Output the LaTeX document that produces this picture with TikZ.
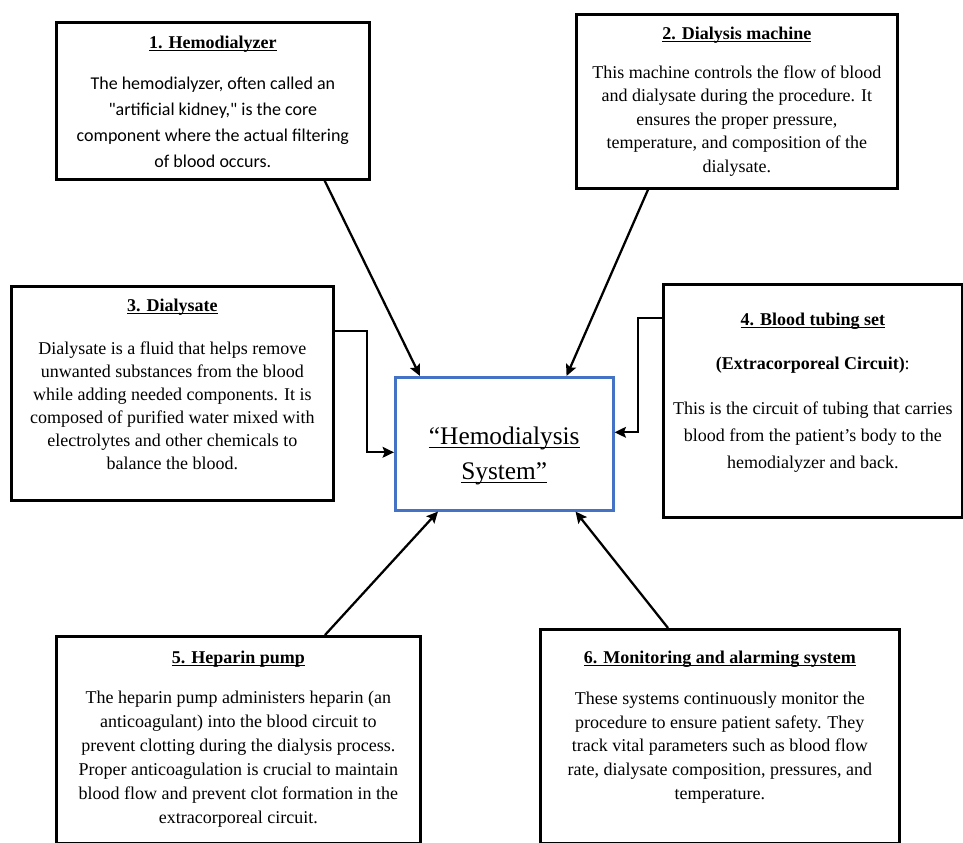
\documentclass[tikz,border=0pt]{standalone}
\usepackage{fontspec}
\setmainfont{Liberation Serif}
\newfontfamily\calibrifont{Carlito}
\usetikzlibrary{arrows.meta}

\definecolor{hubblue}{HTML}{4472C4}

% underline at a fixed depth (crosses descenders)
\newcommand{\uln}[2][2pt]{\leavevmode\setbox0\hbox{#2}\rlap{\rule[-#1]{\wd0}{0.75pt}}\box0}
% title line of a card, then the card itself (width, height, top pad, content)
\newcommand{\cardtitle}[1]{\rule{0pt}{10.5pt}\uln{\textbf{#1}}\par}
\newcommand{\card}[4]{\parbox[c][#2][t]{#1}{\centering\vspace*{#3}#4}}

\tikzset{
  infobox/.style={draw, line width=2pt, inner sep=0pt, anchor=north west},
  hubbox/.style={draw=hubblue, line width=1.9pt, inner sep=0pt, anchor=north west},
  feed/.style={line width=1.7pt, -{Stealth[length=8.5pt,width=8pt,inset=1.5pt]}},
}

\begin{document}
\begin{tikzpicture}[x=0.75pt, y=-0.75pt] % pixel grid, y pointing down

    \useasboundingbox (0,0) rectangle (963,842);
    \clip (0,0) rectangle (963,842);

    % 0. the hub in the middle
    \node[hubbox] (hds) at (394,376) {\card{163.5pt}{99.75pt}{36.25pt}{%
        \fontsize{19}{26.25}\selectfont\rule{0pt}{14pt}\uln[3pt]{“Hemodialysis}\\\uln[3pt]{System”}}};

    % 1. Hemodialyzer (top left)
    \node[infobox] (dialyzer) at (55,21) {\card{234.75pt}{117.75pt}{9pt}{%
        \fontsize{13.5}{19.5}\selectfont
        \cardtitle{1. Hemodialyzer}\vspace{11.25pt}
        {\calibrifont The hemodialyzer, often called an\\
        "artificial kidney," is the core\\
        component where the actual filtering\\
        of blood occurs.}}};

    % 2. Dialysis machine (top right)
    \node[infobox] (machine) at (575,13) {\card{240.75pt}{130.5pt}{8.25pt}{%
        \fontsize{13.5}{17.6}\selectfont
        \cardtitle{2. Dialysis machine}\vspace{11.6pt}
        This machine controls the flow of blood\\
        and dialysate during the procedure. It\\
        ensures the proper pressure,\\
        temperature, and composition of the\\
        dialysate.}};

    % 3. Dialysate (left)
    \node[infobox] (dialysate) at (10,285) {\card{241.5pt}{160.5pt}{8.25pt}{%
        \fontsize{13.5}{17.25}\selectfont
        \cardtitle{3. Dialysate}\vspace{15pt}
        Dialysate is a fluid that helps remove\\
        unwanted substances from the blood\\
        while adding needed components. It is\\
        composed of purified water mixed with\\
        electrolytes and other chemicals to\\
        balance the blood.}};

    % 4. Blood tubing set (right)
    \node[infobox] (tubing) at (662,283) {\card{224.25pt}{174.75pt}{20.25pt}{%
        \fontsize{13.5}{20.25}\selectfont
        \cardtitle{4. Blood tubing set}\vspace{12.75pt}
        \textbf{(Extracorporeal Circuit)}:\par\vspace{13.5pt}
        This is the circuit of tubing that carries\\
        blood from the patient’s body to the\\
        hemodialyzer and back.}};

    % 5. Heparin pump (bottom left)
    \node[infobox] (heparin) at (55,635) {\card{273pt}{155.25pt}{9.75pt}{%
        \fontsize{13.5}{18}\selectfont
        \cardtitle{5. Heparin pump}\vspace{12pt}
        The heparin pump administers heparin (an\\
        anticoagulant) into the blood circuit to\\
        prevent clotting during the dialysis process.\\
        Proper anticoagulation is crucial to maintain\\
        blood flow and prevent clot formation in the\\
        extracorporeal circuit.}};

    % 6. Monitoring and alarming system (bottom right)
    \node[infobox] (monitor) at (539,628) {\card{269.25pt}{160.5pt}{15pt}{%
        \fontsize{13.5}{17.8}\selectfont
        \cardtitle{6. Monitoring and alarming system}\vspace{12.95pt}
        These systems continuously monitor the\\
        procedure to ensure patient safety. They\\
        track vital parameters such as blood flow\\
        rate, dialysate composition, pressures, and\\
        temperature.}};

    % 7. arrows into the hub
    \draw[feed] ([xshift=-34.5pt]dialyzer.south east) -- ([xshift=19.5pt]hds.north west);
    \draw[feed] ([xshift=54.75pt]machine.south west) -- ([xshift=-36pt]hds.north east);
    \draw[feed] ([yshift=-34.5pt]dialysate.north east) -- ++(24pt,0) |- ([yshift=-6.4pt]hds.west);
    \draw[feed] ([yshift=-26.25pt]tubing.north west) -- ++(-18pt,0) |- ([yshift=8.6pt]hds.east);
    \draw[feed] ([xshift=202.5pt]heparin.north west) -- ([xshift=33pt]hds.south west);
    \draw[feed] ([xshift=96.75pt]monitor.north west) -- ([xshift=-29.25pt]hds.south east);

\end{tikzpicture}
\end{document}
